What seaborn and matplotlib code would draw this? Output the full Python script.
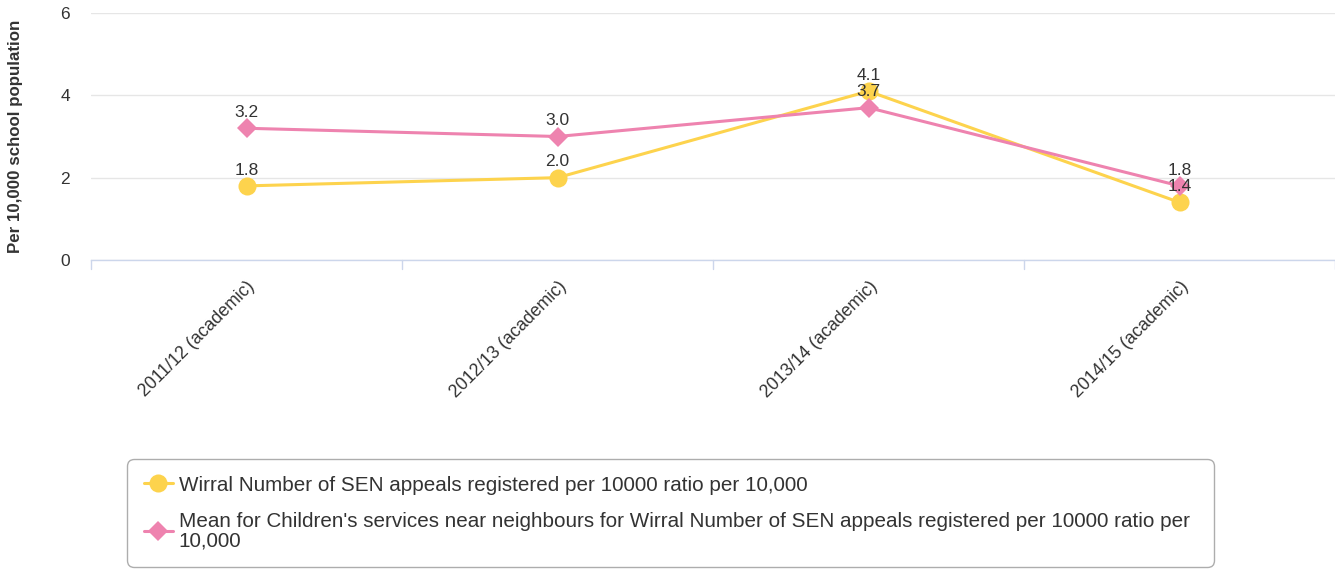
import matplotlib
matplotlib.use("Agg")
import matplotlib.pyplot as plt
from matplotlib.lines import Line2D
import seaborn as sns
import pandas as pd
import numpy as np

categories = ["2011/12 (academic)", "2012/13 (academic)", "2013/14 (academic)", "2014/15 (academic)"]
wirral = [1.8, 2.0, 4.1, 1.4]
neighbours = [3.2, 3.0, 3.7, 1.8]
series_names = [
    "Wirral Number of SEN appeals registered per 10000 ratio per 10,000",
    "Mean for Children's services near neighbours for Wirral Number of SEN appeals registered per 10000 ratio per\n10,000",
]
y_ticks = [0, 2, 4, 6]

yellow = "#FDD34D"
pink = "#EE83AF"
text_col = "#333333"

sns.set_theme(style="white")
plt.rcParams["font.family"] = ["Liberation Sans", "DejaVu Sans"]

df = pd.DataFrame({
    "x": list(range(len(categories))) * 2,
    "value": wirral + neighbours,
    "series": [series_names[0]] * len(categories) + [series_names[1]] * len(categories),
})

fig = plt.figure(figsize=(13.35, 5.69), dpi=100)
W, H = 1335, 569
ax = fig.add_axes([91 / W, 1 - 260 / H, (1335 - 91) / W, (260 - 13) / H])

sns.lineplot(
    data=df, x="x", y="value", hue="series", style="series",
    palette=[yellow, pink], markers=["o", "D"], dashes=False,
    linewidth=2.2, markeredgewidth=0, ax=ax, legend=False,
)
for line, ms in zip(ax.get_lines(), [13, 10]):
    line.set_markersize(ms)

ax.set_xlim(-0.5, len(categories) - 0.5)
ax.set_ylim(0, 6)
ax.set_yticks(y_ticks)
ax.set_yticklabels([str(t) for t in y_ticks], fontsize=12.5, color=text_col)
ax.yaxis.grid(True, color="#e6e6e6", linewidth=1)
ax.tick_params(axis="y", length=0, pad=15)

ax.set_xticks(range(len(categories)))
ax.set_xticklabels(categories, rotation=45, ha="right", va="top",
                   rotation_mode="anchor", fontsize=12.8, color=text_col)
ax.tick_params(axis="x", length=0, pad=13)
# category boundary ticks
for b in np.arange(-0.5, len(categories) + 0.5, 1.0):
    ax.plot([b, b], [0, -0.22], color="#ccd6eb", linewidth=1, clip_on=False)

for s in ["top", "right", "left"]:
    ax.spines[s].set_visible(False)
ax.spines["bottom"].set_color("#ccd6eb")
ax.spines["bottom"].set_linewidth(1)

ax.set_xlabel("")
ax.set_ylabel("Per 10,000 school population", fontsize=12.2, fontweight="bold",
              color=text_col)
ax.yaxis.set_label_coords((16 - 91) / (1335 - 91), 0.5)
ax.yaxis.label.set_va("center")

for vals in (wirral, neighbours):
    for i, v in enumerate(vals):
        ax.annotate(f"{v:.1f}", (i, v), xytext=(0, 6), textcoords="offset points",
                    ha="center", va="bottom", fontsize=12.5, color=text_col)

handles = [
    Line2D([], [], color=yellow, marker="o", markersize=13, linewidth=2.2, markeredgewidth=0),
    Line2D([], [], color=pink, marker="D", markersize=10, linewidth=2.2, markeredgewidth=0),
]
leg = fig.legend(
    handles, series_names, loc="upper left",
    bbox_to_anchor=(127 / W, 1 - 459 / H, (1214 - 127) / W, 0.0),
    mode="expand", borderaxespad=0, frameon=True, fontsize=14.9,
    handlelength=1.4, handletextpad=0.3, labelspacing=0.82, borderpad=0.8,
    fancybox=True,
)
frame = leg.get_frame()
frame.set_edgecolor("#999999")
frame.set_linewidth(1)
frame.set_boxstyle("round,pad=0,rounding_size=0.35")
for t in leg.get_texts():
    t.set_color(text_col)
    t.set_linespacing(1.05)

fig.savefig("out.png", dpi=100)
